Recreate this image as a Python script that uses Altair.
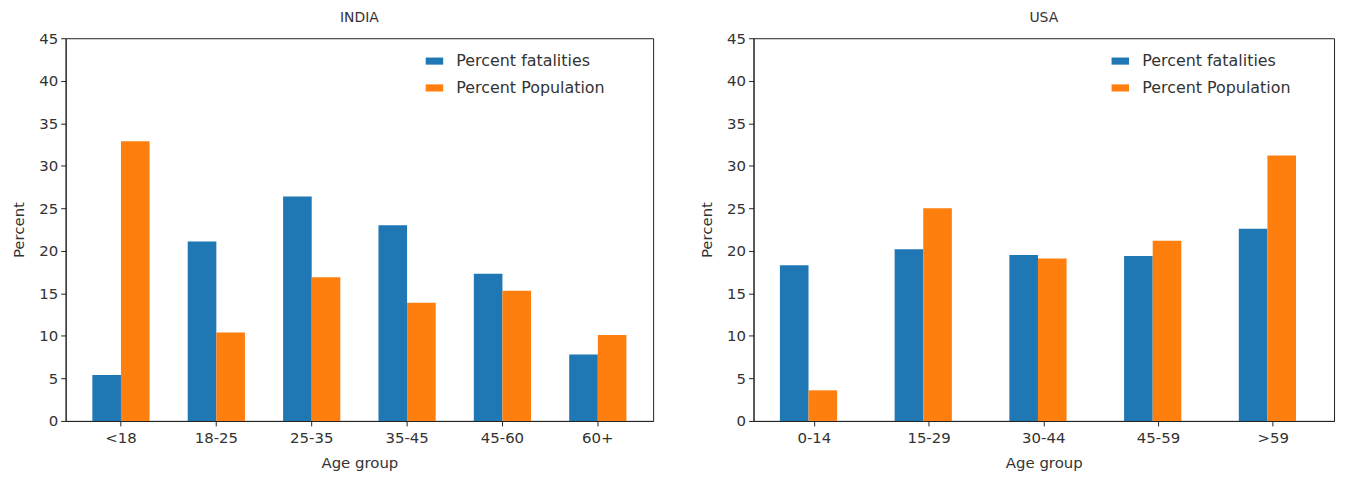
import altair as alt
import pandas as pd

india_groups = ["<18", "18-25", "25-35", "35-45", "45-60", "60+"]
india_fatalities = [5.4, 21.1, 26.4, 23.0, 17.3, 7.8]
india_population = [32.9, 10.4, 16.9, 13.9, 15.3, 10.1]

usa_groups = ["0-14", "15-29", "30-44", "45-59", ">59"]
usa_fatalities = [18.3, 20.2, 19.5, 19.4, 22.6]
usa_population = [3.6, 25.0, 19.1, 21.2, 31.2]

series = ["Percent fatalities", "Percent Population"]
colors = ["#1f77b4", "#ff7f0e"]
y_ticks = [0, 5, 10, 15, 20, 25, 30, 35, 40, 45]

FONT = "DejaVu Sans"
TEXT = "#333333"
FS = 15


def panel(title, groups, fat, pop, width, pad_outer, legend_x):
    n = len(groups)
    df = pd.DataFrame({
        "group": groups + groups,
        "series": [series[0]] * n + [series[1]] * n,
        "value": fat + pop,
    })
    return alt.Chart(
        df,
        title=alt.TitleParams(title, fontSize=14, font=FONT, fontWeight="normal",
                              color=TEXT, offset=6),
    ).mark_bar().encode(
        x=alt.X("group:N", sort=groups,
                scale=alt.Scale(paddingInner=0.4, paddingOuter=pad_outer),
                axis=alt.Axis(title="Age group", labelAngle=0, labelPadding=5, titlePadding=10)),
        xOffset=alt.XOffset("series:N", sort=series,
                            scale=alt.Scale(paddingInner=0, paddingOuter=0)),
        y=alt.Y("value:Q", scale=alt.Scale(domain=[0, 45], nice=False, zero=True),
                axis=alt.Axis(title="Percent", values=y_ticks, grid=False, titlePadding=12)),
        color=alt.Color("series:N", sort=series,
                        scale=alt.Scale(domain=series, range=colors),
                        legend=alt.Legend(title=None, orient="none", legendX=legend_x, legendY=15,
                                          symbolType="M-1.6,-0.65L1.6,-0.65L1.6,0.65L-1.6,0.65Z",
                                          symbolSize=121, symbolStrokeWidth=0,
                                          labelFontSize=16, labelFont=FONT, labelColor=TEXT,
                                          labelOffset=14, rowPadding=11)),
    ).properties(width=width, height=385)


left = panel("INDIA", india_groups, india_fatalities, india_population, 591, 0.28, 363)
right = panel("USA", usa_groups, usa_fatalities, usa_population, 584, 0.23, 361)

chart = alt.hconcat(left, right, spacing=45).resolve_scale(
    color="independent"
).resolve_legend(color="independent").properties(
    padding={"left": 3, "top": 1, "right": 5, "bottom": 5}
).configure_view(
    stroke="#222222", strokeWidth=1
).configure_axis(
    labelFont=FONT, titleFont=FONT, labelFontSize=FS, titleFontSize=FS,
    titleFontWeight="normal", labelColor=TEXT, titleColor=TEXT,
    domainColor="#222222", tickColor="#222222", tickSize=5, labelPadding=3,
    grid=False,
)

chart.save("out.html", embed_options={"renderer": "svg", "actions": False})
